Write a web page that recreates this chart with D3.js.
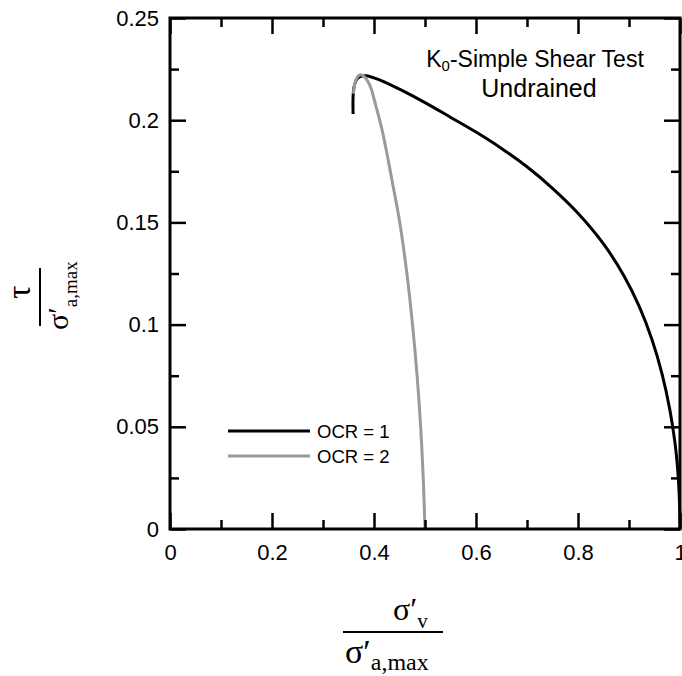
<!DOCTYPE html>
<html>
<head>
<meta charset="utf-8">
<script src="https://cdn.jsdelivr.net/npm/d3@7"></script>
<style>
  body { margin: 0; background: #fff; }
  svg { display: block; }
</style>
</head>
<body>
<div id="chart"></div>
<script>
// Normalised stress paths (sigma'_v / sigma'_a,max, tau / sigma'_a,max)
const ocr1Sigma = [1.0, 0.9995, 0.998, 0.995, 0.99, 0.98, 0.965, 0.945, 0.92, 0.89, 0.85, 0.80, 0.75, 0.70, 0.65, 0.60, 0.549, 0.50, 0.453, 0.42, 0.40, 0.385, 0.374, 0.366, 0.361, 0.359, 0.359];
const ocr1Tau   = [0.0, 0.008, 0.0191, 0.0305, 0.0425, 0.0585, 0.0757, 0.0927, 0.1089, 0.1239, 0.1395, 0.1545, 0.1667, 0.1772, 0.1862, 0.1942, 0.2016, 0.2086, 0.2148, 0.2188, 0.2207, 0.2217, 0.2215, 0.2200, 0.2165, 0.2115, 0.203];
const ocr2Sigma = [0.5, 0.4965, 0.4915, 0.4845, 0.4755, 0.4645, 0.4505, 0.435, 0.416, 0.4005, 0.395, 0.388, 0.380, 0.373, 0.367, 0.3625, 0.3595];
const ocr2Tau   = [0.0, 0.025, 0.05, 0.075, 0.10, 0.125, 0.15, 0.171, 0.195, 0.21, 0.215, 0.219, 0.2215, 0.2222, 0.221, 0.218, 0.213];

const seriesNames = ["OCR = 1", "OCR = 2"];
const xMajorTicks = [0, 0.2, 0.4, 0.6, 0.8, 1];
const xMinorTicks = [0.1, 0.3, 0.5, 0.7, 0.9];
const xTickLabels = ["0", "0.2", "0.4", "0.6", "0.8", "1"];
const yMajorTicks = [0, 0.05, 0.1, 0.15, 0.2, 0.25];
const yMinorTicks = [0.025, 0.075, 0.125, 0.175, 0.225];
const yTickLabels = ["0", "0.05", "0.1", "0.15", "0.2", "0.25"];

const W = 682, H = 676;
const plot = { left: 170, right: 680, top: 18, bottom: 529 };
const colors = ["#000000", "#9a9a9a"];
const sans = "'Liberation Sans', Arial, sans-serif";
const serif = "'Liberation Serif', 'Times New Roman', serif";

const x = d3.scaleLinear().domain([0, 1]).range([plot.left, plot.right]);
const y = d3.scaleLinear().domain([0, 0.25]).range([plot.bottom, plot.top]);

const svg = d3.select("#chart").append("svg")
  .attr("width", W).attr("height", H)
  .attr("viewBox", `0 0 ${W} ${H}`);

// curves first, frame on top
const series = [
  ocr1Sigma.map((s, i) => [s, ocr1Tau[i]]),
  ocr2Sigma.map((s, i) => [s, ocr2Tau[i]])
];
const line = d3.line()
  .x(d => x(d[0])).y(d => y(d[1]))
  .curve(d3.curveCatmullRom.alpha(0.5));

svg.selectAll("path.curve")
  .data(series)
  .join("path")
  .attr("class", "curve")
  .attr("d", line)
  .attr("fill", "none")
  .attr("stroke", (d, i) => colors[i])
  .attr("stroke-width", 3)
  .attr("stroke-linejoin", "round");

// axes: ticks point inward on all four sides
function styleAxis(g) {
  g.select(".domain").remove();
  g.selectAll(".tick line").attr("stroke", "#000").attr("stroke-width", 2.5);
  g.selectAll(".tick text")
    .attr("fill", "#000")
    .attr("font-family", sans)
    .attr("font-size", 22);
}
const fmtX = d => xTickLabels[xMajorTicks.indexOf(d)];
const fmtY = d => yTickLabels[yMajorTicks.indexOf(d)];

svg.append("g").attr("transform", `translate(0,${plot.bottom})`)
  .call(d3.axisBottom(x).tickValues(xMajorTicks).tickSize(-16).tickPadding(15).tickFormat(fmtX))
  .call(styleAxis);
svg.append("g").attr("transform", `translate(0,${plot.bottom})`)
  .call(d3.axisBottom(x).tickValues(xMinorTicks).tickSize(-9).tickFormat(""))
  .call(styleAxis);
svg.append("g").attr("transform", `translate(0,${plot.top})`)
  .call(d3.axisTop(x).tickValues(xMajorTicks).tickSize(-16).tickFormat(""))
  .call(styleAxis);
svg.append("g").attr("transform", `translate(0,${plot.top})`)
  .call(d3.axisTop(x).tickValues(xMinorTicks).tickSize(-9).tickFormat(""))
  .call(styleAxis);

svg.append("g").attr("transform", `translate(${plot.left},0)`)
  .call(d3.axisLeft(y).tickValues(yMajorTicks).tickSize(-16).tickPadding(11).tickFormat(fmtY))
  .call(styleAxis);
svg.append("g").attr("transform", `translate(${plot.left},0)`)
  .call(d3.axisLeft(y).tickValues(yMinorTicks).tickSize(-9).tickFormat(""))
  .call(styleAxis);
svg.append("g").attr("transform", `translate(${plot.right},0)`)
  .call(d3.axisRight(y).tickValues(yMajorTicks).tickSize(-16).tickFormat(""))
  .call(styleAxis);
svg.append("g").attr("transform", `translate(${plot.right},0)`)
  .call(d3.axisRight(y).tickValues(yMinorTicks).tickSize(-9).tickFormat(""))
  .call(styleAxis);

svg.append("rect")
  .attr("x", plot.left).attr("y", plot.top)
  .attr("width", plot.right - plot.left).attr("height", plot.bottom - plot.top)
  .attr("fill", "none").attr("stroke", "#000").attr("stroke-width", 3);

// title block
const title = svg.append("text")
  .attr("x", 535).attr("y", 67)
  .attr("text-anchor", "middle")
  .attr("font-family", sans).attr("font-size", 23);
title.append("tspan").text("K");
title.append("tspan").attr("font-size", 15).attr("dy", 4).text("0");
title.append("tspan").attr("dy", -4).text("-Simple Shear Test");

svg.append("text")
  .attr("x", 539).attr("y", 97)
  .attr("text-anchor", "middle")
  .attr("font-family", sans).attr("font-size", 25)
  .text("Undrained");

// legend
const legend = svg.append("g").attr("transform", "translate(228,431)");
const item = legend.selectAll("g")
  .data(seriesNames)
  .join("g")
  .attr("transform", (d, i) => `translate(0,${i * 25})`);
item.append("line")
  .attr("x1", 0).attr("x2", 82)
  .attr("stroke", (d, i) => colors[i]).attr("stroke-width", 3);
item.append("text")
  .attr("x", 89).attr("y", 6.5)
  .attr("font-family", sans).attr("font-size", 18.5)
  .text(d => d);

// x-axis title: sigma'_v over sigma'_a,max
const xTitle = svg.append("g").attr("transform", "translate(393,632)");
const xNum = xTitle.append("text").attr("x", 0).attr("y", -12)
  .attr("font-family", serif).attr("font-size", 32);
xNum.append("tspan").text("σ′");
xNum.append("tspan").attr("font-size", 21).attr("dy", 8).text("v");
xTitle.append("line").attr("x1", -50).attr("x2", 50)
  .attr("stroke", "#000").attr("stroke-width", 2);
const xDen = xTitle.append("text").attr("x", -48).attr("y", 31)
  .attr("font-family", serif).attr("font-size", 34);
xDen.append("tspan").text("σ′");
xDen.append("tspan").attr("font-size", 24).attr("dy", 7).text("a,max");

// y-axis title: tau over sigma'_a,max, rotated
const yTitle = svg.append("g").attr("transform", "translate(40,297) rotate(-90)");
yTitle.append("text").attr("x", 5).attr("y", -10).attr("text-anchor", "middle")
  .attr("font-family", serif).attr("font-size", 33).text("τ");
yTitle.append("line").attr("x1", -29).attr("x2", 29)
  .attr("stroke", "#000").attr("stroke-width", 2);
const yDen = yTitle.append("text").attr("x", -33).attr("y", 28)
  .attr("font-family", serif).attr("font-size", 30);
yDen.append("tspan").text("σ′");
yDen.append("tspan").attr("font-size", 19).attr("dy", 9).text("a,max");
</script>
</body>
</html>
